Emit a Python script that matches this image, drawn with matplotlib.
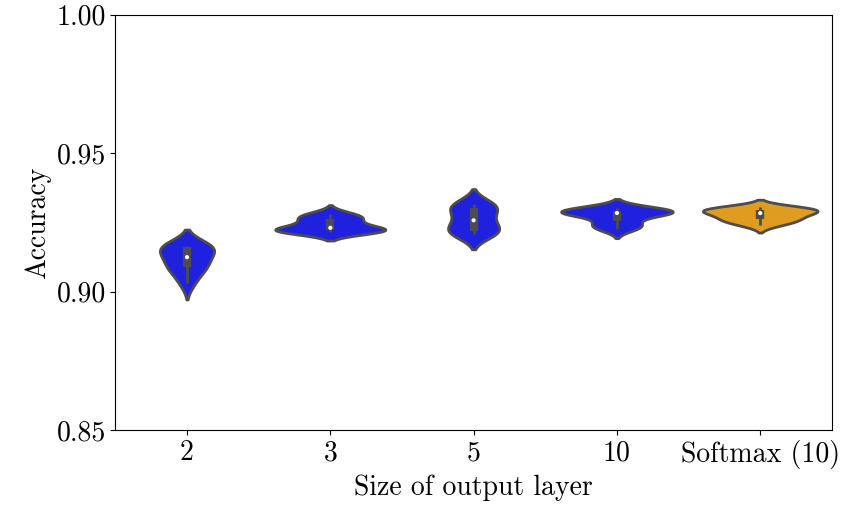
import matplotlib
matplotlib.use("Agg")
import matplotlib.pyplot as plt
import numpy as np
from matplotlib.colors import to_rgb
import colorsys

plt.rcParams["font.family"] = "serif"
plt.rcParams["font.serif"] = ["cmr10", "DejaVu Serif"]
plt.rcParams["mathtext.fontset"] = "cm"
plt.rcParams["axes.formatter.use_mathtext"] = True

categories = ["2", "3", "5", "10", "Softmax (10)"]
acc_2 = [0.9031, 0.907, 0.9085, 0.910, 0.912, 0.913, 0.9158, 0.9162, 0.9164, 0.9166]
acc_3 = [0.9216, 0.9219, 0.9221, 0.9223, 0.9226, 0.9236, 0.9252, 0.9265, 0.9272, 0.9282]
acc_5 = [0.9208, 0.9212, 0.9217, 0.923, 0.925, 0.9266, 0.929, 0.9308, 0.9312, 0.9316]
acc_10 = [0.9227, 0.9238, 0.9248, 0.9275, 0.9283, 0.9286, 0.929, 0.9293, 0.9296, 0.9302]
acc_soft = [0.9241, 0.9255, 0.926, 0.927, 0.928, 0.9288, 0.929, 0.9298, 0.9302, 0.9305]
accuracy = [acc_2, acc_3, acc_5, acc_10, acc_soft]
base_colors = ["blue", "blue", "blue", "blue", "orange"]


def desaturate(color, prop=0.75):
    h, l, s = colorsys.rgb_to_hls(*to_rgb(color))
    return colorsys.hls_to_rgb(h, l, s * prop)


def kde(data, grid):
    data = np.asarray(data)
    n = data.size
    bw = n ** (-1 / 5) * data.std(ddof=1)
    z = (grid[:, None] - data[None, :]) / bw
    return np.exp(-0.5 * z ** 2).sum(1) / (n * bw * np.sqrt(2 * np.pi)), bw


gray = (0.3, 0.3, 0.3)
lw = 2.0
curves = []
for d in accuracy:
    d = np.asarray(d)
    _, bw = kde(d, np.array([0.0]))
    grid = np.linspace(d.min() - 2 * bw, d.max() + 2 * bw, 100)
    dens, _ = kde(d, grid)
    curves.append((grid, dens))
dmax = max(c[1].max() for c in curves)

fig, ax = plt.subplots(figsize=(8.42, 5.11), dpi=100)
fig.subplots_adjust(left=0.137, right=0.988, top=0.971, bottom=0.158)

for i, (d, (grid, dens)) in enumerate(zip(accuracy, curves)):
    w = dens / dmax * 0.4
    ax.fill_betweenx(grid, i - w, i + w, facecolor=desaturate(base_colors[i]),
                     edgecolor=gray, linewidth=lw, zorder=1)
    d = np.asarray(d)
    q25, q50, q75 = np.percentile(d, [25, 50, 75])
    lim = 1.5 * (q75 - q25)
    lo = d[d >= q25 - lim].min()
    hi = d[d <= q75 + lim].max()
    ax.plot([i, i], [lo, hi], color=gray, lw=lw, zorder=2, solid_capstyle="butt")
    ax.plot([i, i], [q25, q75], color=gray, lw=lw * 3, zorder=2, solid_capstyle="butt")
    ax.scatter([i], [q50], s=9, color="white", zorder=3, edgecolor="none")

ax.set_xlim(-0.5, 4.5)
ax.set_ylim(0.85, 1.0)
ax.set_yticks([0.85, 0.90, 0.95, 1.00])
ax.set_yticklabels(["0.85", "0.90", "0.95", "1.00"])
ax.set_xticks(range(len(categories)))
ax.set_xticklabels(categories)
ax.tick_params(labelsize=20)
ax.set_xlabel("Size of output layer", fontsize=20)
ax.set_ylabel("Accuracy", fontsize=20)

fig.savefig("out.png", dpi=100)
